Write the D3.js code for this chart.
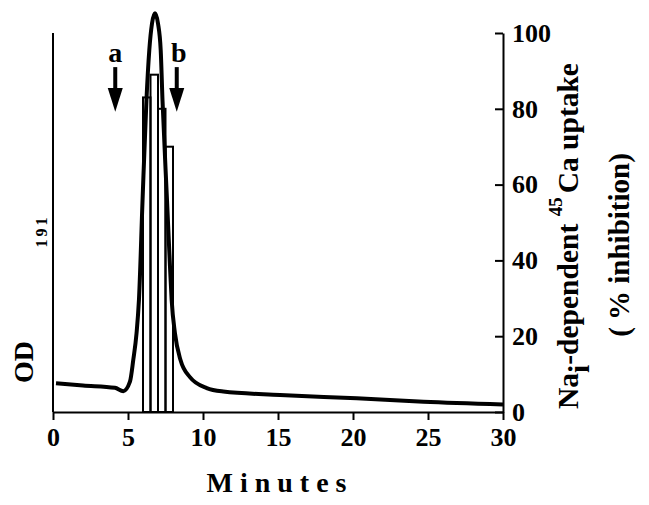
<!DOCTYPE html>
<html>
<head>
<meta charset="utf-8">
<script src="https://cdn.jsdelivr.net/npm/d3@7"></script>
<style>
    body { margin: 0; background: #fff; }
    svg text { font-family: "Liberation Serif", "Times New Roman", serif; font-weight: bold; }
</style>
</head>
<body>
<div id="id_plot"></div>
<script>
// OD 191 trace (arbitrary units, drawn on the same 0-100 frame)
var odTime = [0.2, 2, 4.13, 4.69, 5.13, 5.35, 5.57, 5.73, 5.97, 6.23, 6.42, 6.6, 6.8, 7.0, 7.18,
    7.3, 7.6, 7.8, 7.91, 8.13, 8.5, 9.13, 10.25, 11.35, 15.13, 20.25, 24.7, 30];
var odValue = [7.6, 7.0, 6.4, 5.5, 8.0, 13.7, 20.8, 29.6, 55.9, 82.3, 95.5, 102.5, 105.2, 102.5, 95.5,
    82.3, 55.9, 38.3, 29.6, 20.8, 13.7, 9.2, 6.3, 5.4, 4.5, 3.6, 2.7, 2.0];

// collected fractions: start minute and % inhibition
var fractionStart = [6, 6.5, 7, 7.5];
var fractionWidth = 0.5;
var inhibition = [83, 89, 80, 70];

// arrows
var arrowLabels = ["a", "b"];
var arrowTimes = [4.15, 8.25];

var xTicks = [0, 5, 10, 15, 20, 25, 30];
var yTicks = [0, 20, 40, 60, 80, 100];

var svgWidth = 649, svgHeight = 505;
var margin = {top: 33, right: 146, bottom: 93, left: 53};

var svg = d3.select("#id_plot").append("svg")
    .attr("width", svgWidth)
    .attr("height", svgHeight);

var x = d3.scaleLinear().domain([0, 30]).range([margin.left, svgWidth - margin.right]);
var y = d3.scaleLinear().domain([0, 100]).range([svgHeight - margin.bottom, margin.top]);
var y0 = y(0);

// bars (drawn first, the trace goes over them)
svg.append("g")
    .selectAll("rect")
    .data(fractionStart)
    .enter()
    .append("rect")
    .attr("x", function (d) { return x(d); })
    .attr("y", function (d, i) { return y(inhibition[i]); })
    .attr("width", function (d) { return x(d + fractionWidth) - x(d); })
    .attr("height", function (d, i) { return y0 - y(inhibition[i]); })
    .attr("fill", "none")
    .attr("stroke", "#000")
    .attr("stroke-width", 2);

// trace
var line = d3.line()
    .x(function (d) { return x(d[0]); })
    .y(function (d) { return y(d[1]); })
    .curve(d3.curveMonotoneX);

svg.append("path")
    .datum(odTime.map(function (t, i) { return [t, odValue[i]]; }))
    .attr("d", line)
    .attr("fill", "none")
    .attr("stroke", "#000")
    .attr("stroke-width", 4)
    .attr("stroke-linejoin", "round");

// left axis (no ticks)
svg.append("line")
    .attr("x1", x(0)).attr("x2", x(0))
    .attr("y1", y(100)).attr("y2", y0)
    .attr("stroke", "#000").attr("stroke-width", 2);

// bottom axis
var xAxis = svg.append("g")
    .attr("transform", "translate(0," + y0 + ")")
    .call(d3.axisBottom(x).tickValues(xTicks).tickSizeInner(8).tickSizeOuter(0).tickPadding(8))
    .attr("font-size", 26);
xAxis.selectAll("line, path").attr("stroke-width", 2);

// right axis, ticks pointing inward
var yAxis = svg.append("g")
    .attr("transform", "translate(" + x(30) + ",0)")
    .call(d3.axisRight(y).tickValues(yTicks).tickSizeInner(-8).tickSizeOuter(0).tickPadding(9))
    .attr("font-size", 26);
yAxis.selectAll("line, path").attr("stroke-width", 2);
svg.selectAll(".tick text").attr("fill", "#000");

// arrows
var arrows = svg.append("g")
    .selectAll("g")
    .data(arrowTimes)
    .enter()
    .append("g");

arrows.append("line")
    .attr("x1", function (d) { return x(d); })
    .attr("x2", function (d) { return x(d); })
    .attr("y1", y(91))
    .attr("y2", y(84))
    .attr("stroke", "#000")
    .attr("stroke-width", 4);

arrows.append("path")
    .attr("d", function (d) {
        var cx = x(d), top = y(85.5), tip = y(79.2);
        return "M" + (cx - 7.5) + "," + top + "L" + (cx + 7.5) + "," + top + "L" + cx + "," + tip + "Z";
    })
    .attr("fill", "#000");

arrows.append("text")
    .attr("x", function (d, i) { return x(d) + (i === 1 ? 2 : 0); })
    .attr("y", y(92.3))
    .attr("text-anchor", "middle")
    .attr("font-size", 28)
    .text(function (d, i) { return arrowLabels[i]; });

// x title
svg.append("text")
    .attr("x", 280)
    .attr("y", 492)
    .attr("text-anchor", "middle")
    .attr("font-size", 28)
    .attr("letter-spacing", 7)
    .text("Minutes");

// left title: OD with subscript 191 far off
svg.append("text")
    .attr("transform", "translate(33,362) rotate(-90)")
    .attr("text-anchor", "middle")
    .attr("font-size", 28)
    .text("OD");
svg.append("text")
    .attr("transform", "translate(47,231) rotate(-90)")
    .attr("text-anchor", "middle")
    .attr("font-size", 16)
    .attr("letter-spacing", 3)
    .text("191");

// right title
var rt = svg.append("text")
    .attr("transform", "translate(578,236) rotate(-90)")
    .attr("text-anchor", "middle")
    .attr("font-size", 29.5);
rt.append("tspan").text("Na");
rt.append("tspan").attr("dy", 11).text("i");
rt.append("tspan").attr("dy", -11).text("-dependent ");
rt.append("tspan").attr("dy", -16).attr("font-size", 19).text("45");
rt.append("tspan").attr("dy", 16).attr("dx", 4).text("Ca uptake");

svg.append("text")
    .attr("transform", "translate(629,245) rotate(-90)")
    .attr("text-anchor", "middle")
    .attr("font-size", 29)
    .text("( % inhibition)");
</script>
</body>
</html>
